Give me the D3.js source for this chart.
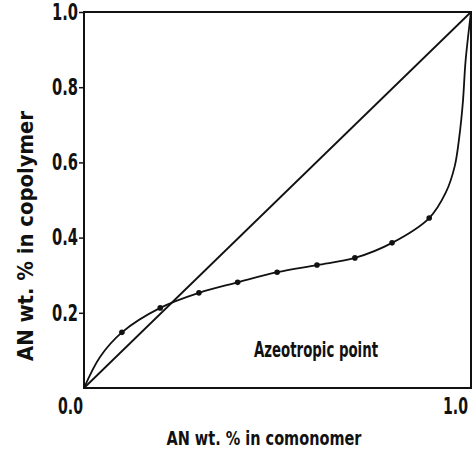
<!DOCTYPE html>
<html>
<head>
<meta charset="utf-8">
<script src="https://cdn.jsdelivr.net/npm/d3@7"></script>
<style>
  body { margin: 0; background: #fff; }
  text { font-family: "DejaVu Sans Condensed", "Liberation Sans Narrow", "DejaVu Sans", sans-serif; font-stretch: condensed; font-weight: bold; fill: #111; }
</style>
</head>
<body>
<script>
// measured points (AN fraction in comonomer, AN fraction in copolymer)
var feedX = [0.098, 0.197, 0.297, 0.397, 0.499, 0.602, 0.700, 0.796, 0.892];
var copolyY = [0.148, 0.213, 0.253, 0.281, 0.308, 0.327, 0.346, 0.386, 0.452];

// extra points the drawn curve passes through (ends and the steep tail)
var curveX = [0, 0.041, 0.098, 0.197, 0.297, 0.397, 0.499, 0.602, 0.700, 0.796, 0.892, 0.935, 0.958, 0.970, 0.979, 0.986, 1.0];
var curveY = [0, 0.082, 0.148, 0.213, 0.253, 0.281, 0.308, 0.327, 0.346, 0.386, 0.452, 0.52, 0.59, 0.67, 0.76, 0.87, 1.0];

var yTicks = [0.2, 0.4, 0.6, 0.8, 1.0];
var xTickLabels = [0.0, 1.0];

var width = 474, height = 450;
var margin = {left: 84, right: 3, top: 12, bottom: 62};

var svg = d3.select("body").append("svg")
    .attr("width", width)
    .attr("height", height);

var x = d3.scaleLinear()
    .domain([0, 1])
    .range([margin.left, width - margin.right]);

var y = d3.scaleLinear()
    .domain([0, 1])
    .range([height - margin.bottom, margin.top]);

// frame
svg.append("rect")
    .attr("x", x(0))
    .attr("y", y(1))
    .attr("width", x(1) - x(0))
    .attr("height", y(0) - y(1))
    .style("fill", "none")
    .style("stroke", "#111")
    .style("stroke-width", 2);

var yAxis = d3.axisLeft(y)
    .tickValues(yTicks)
    .tickSizeInner(5)
    .tickSizeOuter(0)
    .tickFormat(d3.format(".1f"));

var gy = svg.append("g")
    .attr("transform", "translate(" + x(0) + ",0)")
    .call(yAxis);
gy.select(".domain").remove();
gy.selectAll(".tick line").style("stroke", "#111").style("stroke-width", 1.5);
gy.selectAll(".tick text")
    .attr("x", -6)
    .attr("textLength", 26)
    .attr("lengthAdjust", "spacingAndGlyphs")
    .style("font-size", "23px")
    .style("font-family", null);

// x labels only at the ends
svg.selectAll(".xlab")
    .data(xTickLabels)
    .enter().append("text")
    .attr("class", "xlab")
    .attr("x", function(d) { return d === 0 ? x(d) - 1 : x(d) - 3; })
    .attr("y", y(0) + 26)
    .attr("text-anchor", "end")
    .attr("textLength", 25)
    .attr("lengthAdjust", "spacingAndGlyphs")
    .style("font-size", "23px")
    .text(function(d) { return d3.format(".1f")(d); });

// diagonal
svg.append("path")
    .attr("d", d3.line()([[x(0), y(0)], [x(1), y(1)]]))
    .style("stroke", "#111")
    .style("stroke-width", 1.8)
    .style("fill", "none");

// copolymer composition curve
var curvePts = curveX.map(function(d, i) { return [d, curveY[i]]; });
var comp = d3.line()
    .curve(d3.curveCatmullRom.alpha(0.5))
    .x(function(d) { return x(d[0]); })
    .y(function(d) { return y(d[1]); });

svg.append("path")
    .attr("d", comp(curvePts))
    .style("stroke", "#111")
    .style("stroke-width", 1.8)
    .style("fill", "none");

svg.selectAll(".dot")
    .data(feedX)
    .enter().append("circle")
    .attr("class", "dot")
    .attr("cx", function(d) { return x(d); })
    .attr("cy", function(d, i) { return y(copolyY[i]); })
    .attr("r", 2.8)
    .style("fill", "#111");

svg.append("text")
    .attr("x", 254)
    .attr("y", 357)
    .attr("textLength", 124)
    .attr("lengthAdjust", "spacingAndGlyphs")
    .style("font-size", "21px")
    .text("Azeotropic point");

// axis titles
svg.append("text")
    .attr("x", 264)
    .attr("y", 445)
    .attr("text-anchor", "middle")
    .attr("textLength", 195)
    .attr("lengthAdjust", "spacingAndGlyphs")
    .style("font-size", "20px")
    .text("AN wt. %  in comonomer");

svg.append("text")
    .attr("transform", "translate(33,236) rotate(-90)")
    .attr("text-anchor", "middle")
    .attr("textLength", 250)
    .attr("lengthAdjust", "spacingAndGlyphs")
    .style("font-size", "21px")
    .text("AN wt. %  in copolymer");
</script>
</body>
</html>
